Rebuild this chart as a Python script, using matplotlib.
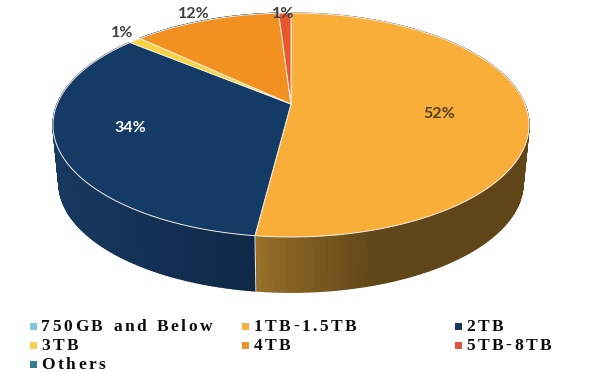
import numpy as np
import matplotlib
matplotlib.use('Agg')
import matplotlib.pyplot as plt
from matplotlib.colors import to_rgb
from matplotlib.patches import Polygon, Rectangle
from matplotlib.text import Text

categories = ['750GB and Below', '1TB-1.5TB', '2TB', '3TB', '4TB', '5TB-8TB', 'Others']
shares = [0, 52, 34, 1, 12, 1, 0]
legend_colors = ['#7FC6E0', '#F6B23F', '#17375E', '#F5CF4E', '#E8932B', '#D9583F', '#2F8096']
top_colors = ['#7FC6E0', '#F9AE3A', '#143A66', '#F8D23F', '#F2911F', '#E8562C', '#2F8096']

# pie geometry, in pixels
CX, CY = 291, 104
A, B, K = 233.8, 108.06, 0.1875
MID_Y, BOTTOM_MID_Y, BOTTOM_SCALE = 125, 183, 0.975


def project(theta):
    # tilted disc: the apex sits above the middle of the ellipse
    u, v = np.sin(theta), np.cos(theta)
    w = 1 + K * v
    return CX + A * u / w, CY - B * v / w


def lower_rim(x, y):
    # the base of the cylinder is a little smaller than its top
    return CX + (x - CX) * BOTTOM_SCALE, BOTTOM_MID_Y + (y - MID_Y) * BOTTOM_SCALE


def wall_color(i, x):
    if i == 1:
        f = np.clip((x - 257) / 125, 0, 1) ** 0.8
        return np.array(to_rgb('#9C7329')) * (1 - f) + np.array(to_rgb('#5F4518')) * f
    f = np.clip((x - 55) / 202, 0, 1)
    return np.array(to_rgb('#17395F')) * (1 - f) + np.array(to_rgb('#0F2747')) * f


class TrackedText(Text):
    # matplotlib has no letter spacing, so step through the string when drawing
    def __init__(self, x, y, text, tracking=0, space=3, **kw):
        super().__init__(x, y, text, **kw)
        self.tracking = tracking
        self.space = space

    def draw(self, renderer):
        full = self.get_text()
        x0 = self.get_position()[0]
        x = x0
        for ch in full:
            if ch == ' ':
                x += self.space + self.tracking
                continue
            self.set_text(ch)
            self.set_x(x)
            super().draw(renderer)
            w, _, _ = renderer.get_text_width_height_descent(ch, self.get_fontproperties(), False)
            x += w + self.tracking
        self.set_text(full)
        self.set_x(x0)


fig = plt.figure(figsize=(5.89, 3.72), dpi=100)
ax = fig.add_axes([0, 0, 1, 1])
ax.set_xlim(0, 589)
ax.set_ylim(372, 0)
ax.axis('off')

edges = np.cumsum([0] + shares) / sum(shares) * 2 * np.pi

# side wall first, the top covers what should be hidden
for i, share in enumerate(shares):
    if share < 5:
        continue
    t = np.linspace(edges[i], edges[i + 1], 160)
    x, y = project(t)
    xb, yb = lower_rim(x, y)
    for j in range(len(t) - 1):
        col = wall_color(i, x[j])
        pts = [(x[j], y[j]), (x[j + 1], y[j + 1]), (xb[j + 1], yb[j + 1]), (xb[j], yb[j])]
        ax.add_patch(Polygon(pts, closed=True, fc=col, ec=col, lw=1.0))

# top of the pie
for i, share in enumerate(shares):
    if share == 0:
        continue
    t = np.linspace(edges[i], edges[i + 1], 200)
    x, y = project(t)
    pts = np.column_stack([np.r_[CX, x], np.r_[CY, y]])
    ax.add_patch(Polygon(pts, closed=True, fc=top_colors[i], ec='#F4EFE6', lw=0.7, joinstyle='round'))

# seam at the front of the wall
x0, y0 = project(edges[2])
x1, y1 = lower_rim(x0, y0)
ax.plot([x0, x1], [y0, y1], color='#E8E2D6', lw=0.8)

# percent labels
label_pos = [None, (439, 114), (130, 128), (122, 33), (194, 14), (283, 14), None]
label_col = [None, '#55401A', 'white', '#404040', '#404040', '#404040', None]
for i, share in enumerate(shares):
    if label_pos[i] is None:
        continue
    ax.text(label_pos[i][0], label_pos[i][1], '%d%%' % share, ha='center', va='center',
            fontsize=11.5, family='Lato', fontweight='bold', color=label_col[i])

# legend
col_x = [30, 242, 455]
row_y = [327, 346, 365]
for i, name in enumerate(categories):
    r, c = i // 3, i % 3
    ax.add_patch(Rectangle((col_x[c], row_y[r] - 4), 6.5, 6.5, fc=legend_colors[i], ec='none'))
    t = TrackedText(col_x[c] + 11.5, row_y[r], name, tracking=2.5, space=5.5, ha='left', va='center',
                    fontsize=12.5, family='Liberation Serif', fontweight='bold', color='#0a0a0a')
    ax.add_artist(t)

fig.savefig('out.png', dpi=100)
